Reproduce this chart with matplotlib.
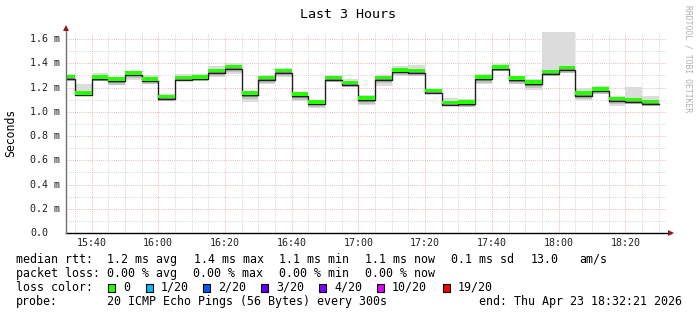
import numpy as np
import matplotlib
matplotlib.use('Agg')
import matplotlib.pyplot as plt
import matplotlib.transforms as mtrans

plt.rcParams['font.family'] = ['DejaVu Sans Mono']

# minutes after 15:00, graph window 15:32:21 .. 18:32:21
t_start = 32 + 21 / 60
t_end = t_start + 180
# 5 minute rrd steps, each value covers (t-5, t]
step_end = list(range(35, 215, 5))

median = [1.290, 1.155, 1.285, 1.268, 1.320, 1.270, 1.123, 1.282, 1.287, 1.340,
          1.372, 1.153, 1.282, 1.337, 1.145, 1.081, 1.282, 1.238, 1.112, 1.282,
          1.345, 1.337, 1.172, 1.076, 1.078, 1.285, 1.368, 1.276, 1.243, 1.331,
          1.364, 1.152, 1.188, 1.108, 1.100, 1.083]
smoke_hi = [1.310, 1.227, 1.318, 1.290, 1.337, 1.300, 1.145, 1.315, 1.310, 1.381,
            1.403, 1.172, 1.300, 1.360, 1.166, 1.100, 1.300, 1.270, 1.139, 1.303,
            1.375, 1.386, 1.194, 1.111, 1.106, 1.315, 1.397, 1.298, 1.270, 1.655,
            1.655, 1.193, 1.210, 1.133, 1.207, 1.133]
smoke_lo = [1.250, 1.140, 1.254, 1.220, 1.263, 1.233, 1.085, 1.250, 1.250, 1.287,
            1.310, 1.084, 1.227, 1.287, 1.090, 1.029, 1.243, 1.205, 1.057, 1.216,
            1.298, 1.298, 1.144, 1.050, 1.040, 1.232, 1.342, 1.229, 1.182, 1.292,
            1.320, 1.100, 1.149, 1.050, 1.067, 1.045]

x_ticks = [40, 60, 80, 100, 120, 140, 160, 180, 200]
x_labels = ['15:40', '16:00', '16:20', '16:40', '17:00', '17:20', '17:40', '18:00', '18:20']
y_ticks = [0.0, 0.2, 0.4, 0.6, 0.8, 1.0, 1.2, 1.4, 1.6]
y_labels = ['0.0', '0.2 m', '0.4 m', '0.6 m', '0.8 m', '1.0 m', '1.2 m', '1.4 m', '1.6 m']

loss_names = ['0', '1/20', '2/20', '3/20', '4/20', '10/20', '19/20']
loss_colors = ['#26ff00', '#00b8ff', '#0059ff', '#5e00ff', '#7e00ff', '#dd00ff', '#ff0000']

W, H = 697, 315
fig = plt.figure(figsize=(W / 100, H / 100), dpi=100)
fig.patch.set_facecolor('white')

def fx(px):
    return px / W

def fy(py):
    return 1 - py / H

ax = fig.add_axes([fx(66), fy(233), fx(666.5) - fx(66), fy(32) - fy(233)])
ax.set_xlim(t_start, t_end)
ax.set_ylim(0, 1.658)
for s in ax.spines.values():
    s.set_visible(False)
ax.set_xticks([])
ax.set_yticks([])

dot = (0, (0.72, 1.44))
# grid
for m in range(35, 215, 5):
    if m % 20 == 0:
        continue
    ax.axvline(m, color='#c8c8c8', lw=0.72, ls=dot, zorder=0)
for v in np.arange(0.1, 1.65, 0.2):
    ax.axhline(v, color='#c8c8c8', lw=0.72, ls=dot, zorder=0)
for m in x_ticks:
    ax.axvline(m, color='#f0a0a0', lw=0.72, ls=dot, zorder=0)
for v in y_ticks[1:]:
    ax.axhline(v, color='#f0a0a0', lw=0.72, ls=dot, zorder=0)

# smoke + median
t0 = [t_start] + step_end[:-1]
w = [b - a for a, b in zip(t0, step_end)]
med = np.array(median)
lo = np.array(smoke_lo)
hi = np.array(smoke_hi)
ax.bar(t0, hi - lo, width=w, bottom=lo, align='edge', color='#dcdcdc', lw=0, zorder=1)
mid_lo = np.maximum(lo, med - 0.045)
mid_hi = np.minimum(hi, med + 0.012)
ax.bar(t0, mid_hi - mid_lo, width=w, bottom=mid_lo, align='edge', color='#c2c2c2', lw=0, zorder=2)
ax.bar(t0, 0.016, width=w, bottom=med - 0.028, align='edge', color='#909090', lw=0, zorder=3)

xs = np.array(t0 + [step_end[-1]])
ys = np.append(med - 0.018, med[-1] - 0.018)
ax.step(xs, ys, where='post', color='#202020', lw=1.0, zorder=4)
ax.bar(t0, 0.029, width=w, bottom=med - 0.013, align='edge', color='#26ff00', lw=0, zorder=5)

# axes lines with arrows
fig.add_artist(plt.Line2D([fx(66), fx(671)], [fy(233), fy(233)], color='black', lw=1))
fig.add_artist(plt.Line2D([fx(66), fx(66)], [fy(233), fy(29)], color='#707070', lw=1))
fig.add_artist(plt.Line2D([fx(671)], [fy(233)], marker='>', color='#8b1a1a', ms=4, mew=0))
fig.add_artist(plt.Line2D([fx(66)], [fy(28)], marker='^', color='#8b1a1a', ms=4, mew=0))

# tick labels
ty = mtrans.blended_transform_factory(fig.transFigure, ax.transData)
for v, lab in zip(y_ticks, y_labels):
    ax.text(fx(30), v, lab, transform=ty, ha='left', va='center', fontsize=7.2, color='#202020')
tx = mtrans.blended_transform_factory(ax.transData, fig.transFigure)
for m, lab in zip(x_ticks, x_labels):
    ax.text(m, fy(242.5), lab, transform=tx, ha='center', va='center', fontsize=7.2, color='#202020')

fig.text(fx(348), fy(14), 'Last 3 Hours', ha='center', va='center', fontsize=9.6)
fig.text(fx(11), fy(133), 'Seconds', ha='center', va='center', rotation=90, fontsize=8.3)
fig.text(fx(688), fy(5), 'RRDTOOL / TOBI OETIKER', ha='center', va='top', rotation=270,
         fontsize=5.8, color='#b0b0b0')

fs = 8.35
r1 = fy(259.5)
fig.text(fx(16), r1, 'median rtt:', va='center', fontsize=fs)
for px, s in [(107.3, '1.2 ms avg'), (194, '1.4 ms max'), (279.3, '1.1 ms min'),
              (365.3, '1.1 ms now'), (451, '0.1 ms sd'), (530.3, '13.0'), (579.3, 'am/s')]:
    fig.text(fx(px), r1, s, va='center', fontsize=fs)
r2 = fy(273.5)
fig.text(fx(16), r2, 'packet loss:', va='center', fontsize=fs)
for px, s in [(107.3, '0.00 % avg'), (193.3, '0.00 % max'), (279, '0.00 % min'), (365.3, '0.00 % now')]:
    fig.text(fx(px), r2, s, va='center', fontsize=fs)
r3 = fy(287.5)
fig.text(fx(16), r3, 'loss color:', va='center', fontsize=fs)
sq_x = [108.3, 146, 203.3, 261, 319.3, 377, 443]
for px, name, c in zip(sq_x, loss_names, loss_colors):
    fig.add_artist(plt.Rectangle((fx(px), fy(291.5)), fx(7), 8 / H, facecolor=c,
                                 edgecolor='black', lw=0.8))
    fig.text(fx(px + 15), r3, name, va='center', fontsize=fs)
r4 = fy(301.7)
fig.text(fx(16), r4, 'probe:', va='center', fontsize=fs)
fig.text(fx(107.3), r4, '20 ICMP Echo Pings (56 Bytes) every 300s', va='center', fontsize=fs)
fig.text(fx(478.7), r4, 'end: Thu Apr 23 18:32:21 2026', va='center', fontsize=fs)

fig.savefig('out.png', dpi=100, facecolor='white')
